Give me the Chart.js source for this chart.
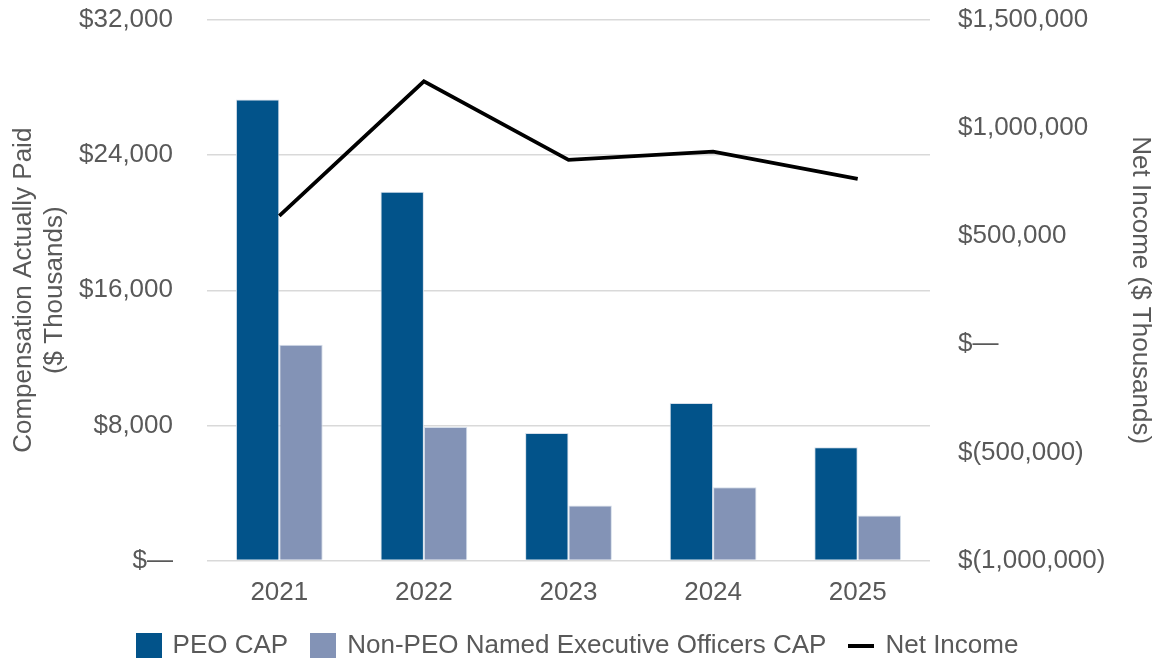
<!DOCTYPE html>
<html>
<head>
<meta charset="utf-8">
<script src="https://cdn.jsdelivr.net/npm/chart.js@4/dist/chart.umd.min.js"></script>
<style>
  html, body { margin: 0; padding: 0; background: #fff; }
  #wrap { width: 1156px; height: 658px; overflow: hidden; }
</style>
</head>
<body>
<div id="wrap"><canvas id="capChart"></canvas></div>
<script>
const years = ["2021", "2022", "2023", "2024", "2025"];
const peoCap = [27300, 21830, 7550, 9330, 6710];
const neoCap = [12770, 7900, 3260, 4330, 2670];
const netIncome = [594000, 1216000, 853000, 891000, 765000];

const leftTicks = [0, 8000, 16000, 24000, 32000];
const rightTicks = [-1000000, -500000, 0, 500000, 1000000, 1500000];

const textGrey = "#595959";
const gridGrey = "#d9d9d9";
const peoBlue = "#02538a";
const neoBlue = "#8393b6";

Chart.defaults.font.family = "'Liberation Sans', Arial, sans-serif";
Chart.defaults.font.size = 26;
Chart.defaults.color = textGrey;

function money(value) {
  if (value === 0) return "$\u2014";
  const s = Math.abs(value).toLocaleString("en-US");
  return value < 0 ? "$(" + s + ")" : "$" + s;
}

// little swatches for the legend
function swatch(w, h, color) {
  const c = document.createElement("canvas");
  c.width = w;
  c.height = h;
  const ctx = c.getContext("2d");
  ctx.fillStyle = color;
  ctx.fillRect(0, 0, w, h);
  return c;
}
const legendIcons = [swatch(26, 26, peoBlue), swatch(26, 26, neoBlue), swatch(26, 4, "#000")];

const data = {
  labels: years,
  datasets: [
    {
      label: "PEO CAP",
      data: peoCap,
      backgroundColor: peoBlue,
      borderColor: "#d5deea",
      borderWidth: 1,
      yAxisID: "y",
      order: 1,
    },
    {
      label: "Non-PEO Named Executive Officers CAP",
      data: neoCap,
      backgroundColor: neoBlue,
      borderColor: "#d5deea",
      borderWidth: 1,
      yAxisID: "y",
      order: 1,
    },
    {
      type: "line",
      label: "Net Income",
      data: netIncome,
      borderColor: "#000",
      borderWidth: 3.75,
      pointRadius: 0,
      tension: 0,
      yAxisID: "y1",
      order: 0,
    },
  ],
};

function noEdgePadding(scale) {
  scale.paddingTop = 0;
  scale.paddingBottom = 0;
}

const config = {
  type: "bar",
  data,
  options: {
    responsive: false,
    animation: false,
    devicePixelRatio: 1,
    layout: { padding: { top: 20, bottom: -10.5, left: 0, right: 0 } },
    datasets: {
      bar: { categoryPercentage: 0.6, barPercentage: 1.0 },
    },
    plugins: {
      tooltip: { enabled: false },
      legend: {
        position: "bottom",
        labels: {
          usePointStyle: true,
          pointStyleWidth: 22,
          padding: 24,
          color: textGrey,
          font: { size: 26 },
          generateLabels(chart) {
            const items = Chart.defaults.plugins.legend.labels.generateLabels(chart);
            items.sort((a, b) => a.datasetIndex - b.datasetIndex);
            items.forEach((item) => { item.pointStyle = legendIcons[item.datasetIndex]; });
            return items;
          },
        },
      },
    },
    scales: {
      x: {
        grid: { display: false, drawTicks: false },
        border: { display: false },
        ticks: { padding: 17, color: textGrey },
        afterFit(scale) { scale.height = 48; },
      },
      y: {
        position: "left",
        min: 0,
        max: 32000,
        afterBuildTicks(scale) {
          scale.ticks = leftTicks.map((v) => ({ value: v }));
        },
        afterFit(scale) {
          scale.width = 207;
          noEdgePadding(scale);
        },
        grid: { color: gridGrey, lineWidth: 1.5, drawTicks: false },
        border: { display: false },
        ticks: { padding: 34, color: textGrey, callback: (v) => money(v) },
        title: {
          display: true,
          text: ["Compensation Actually Paid", "($ Thousands)"],
          color: textGrey,
          font: { size: 26 },
          padding: { top: 8, bottom: 0 },
        },
      },
      y1: {
        position: "right",
        min: -1000000,
        max: 1500000,
        afterBuildTicks(scale) {
          scale.ticks = rightTicks.map((v) => ({ value: v }));
        },
        afterFit(scale) {
          scale.width = 226;
          noEdgePadding(scale);
        },
        grid: { display: false, drawTicks: false },
        border: { display: false },
        ticks: { padding: 28, color: textGrey, callback: (v) => money(v) },
        title: {
          display: true,
          text: "Net Income ($ Thousands)",
          color: textGrey,
          font: { size: 26 },
          padding: { top: 0, bottom: 0 },
        },
      },
    },
  },
};

const canvas = document.getElementById("capChart");
canvas.width = 1156;
canvas.height = 658;
window.chart = new Chart(canvas, config);
</script>
</body>
</html>
